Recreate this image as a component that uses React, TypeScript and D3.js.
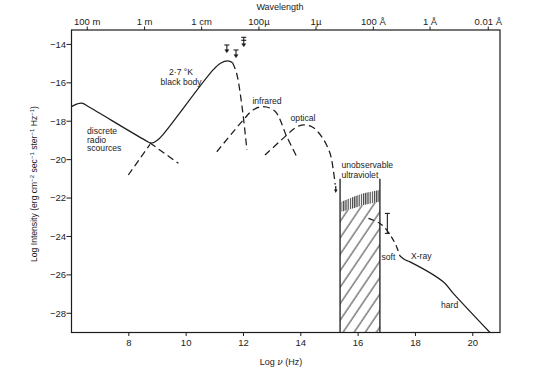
import React from 'react';
import * as d3 from 'd3';

// log nu (Hz) vs log intensity
const radioBBSolid: [number, number][] = [
  [6.0, -17.24], [6.2, -17.1], [6.36, -17.06], [6.6, -17.25], [8.55, -18.97],
  [8.79, -19.14], [9.0, -18.98], [9.2, -18.68], [10.94, -15.33], [11.2, -14.98],
  [11.45, -14.86], [11.62, -14.95],
];
const bbDashHigh: [number, number][] = [[11.62, -14.95], [11.76, -15.5], [11.95, -17.24], [12.12, -19.5]];
const bbDashLow: [number, number][] = [[7.98, -20.8], [8.74, -19.2]];
const radioDash: [number, number][] = [[8.73, -19.12], [9.73, -20.19]];
const infrared: [number, number][] = [
  [11.07, -19.59], [11.99, -17.94], [12.33, -17.42], [12.69, -17.24], [13.1, -17.48],
  [13.51, -18.8], [13.86, -19.85],
];
const optical: [number, number][] = [
  [12.75, -19.76], [13.51, -18.72], [13.75, -18.4], [14.03, -18.2], [14.4, -18.3],
  [14.75, -18.85], [15.02, -19.67], [15.13, -20.5], [15.2, -21.3],
];
const opticalTip: [number, number] = [15.22, -21.74];
const xrayDash: [number, number][] = [[16.36, -23.06], [16.76, -23.32], [17.0, -23.67], [17.29, -24.36], [17.46, -25.02]];
const xraySolid: [number, number][] = [
  [17.46, -25.02], [17.62, -25.2], [17.81, -25.32], [18.97, -26.36], [19.32, -26.96], [20.6, -29.0],
];
const uvBox = { left: 15.37, right: 16.76, top: -21.0 };
const bandV = [15.42, 15.84, 16.19, 16.74];
const bandTop = [-22.19, -21.93, -21.75, -21.58];
const bandBottom = [-22.71, -22.53, -22.36, -22.19];
const upperLimits: { v: number; top: number; tip: number; double: boolean }[] = [
  { v: 11.42, top: -14.03, tip: -14.43, double: false },
  { v: 11.74, top: -14.29, tip: -14.69, double: false },
  { v: 12.01, top: -13.63, tip: -14.12, double: true },
];
const xrayError = { v: 17.02, hi: -22.8, lo: -23.84 };

const xTicks = [8, 10, 12, 14, 16, 18, 20];
const yTicks = [-14, -16, -18, -20, -22, -24, -26, -28];
const wlTickPos = [6.55, 8.55, 10.54, 12.54, 14.53, 16.53, 18.51, 20.54];
const wlTickLabels = ['100 m', '1 m', '1 cm', '100\u00b5', '1\u00b5', '100 \u00c5', '1 \u00c5', '0.01 \u00c5'];

const W = 540;
const H = 368;
const font = '"Liberation Sans", Arial, sans-serif';
const ink = '#1c1c1c';

export default function App() {
  const x = d3.scaleLinear().domain([6, 20.95]).range([71.5, 500]);
  const y = d3.scaleLinear().domain([-29, -13.25]).range([332.5, 30]);
  const line = d3
    .line<[number, number]>()
    .x((d) => x(d[0]))
    .y((d) => y(d[1]))
    .curve(d3.curveCatmullRom.alpha(0.5));
  const straight = d3.line<[number, number]>().x((d) => x(d[0])).y((d) => y(d[1]));

  const bandPoly: [number, number][] = [
    ...bandV.map((v, i) => [v, bandTop[i]] as [number, number]),
    ...bandV.map((v, i) => [v, bandBottom[i]] as [number, number]).reverse(),
  ];
  const hatchPoly: [number, number][] = [
    [uvBox.left, bandBottom[0]],
    ...bandV.map((v, i) => [v, bandBottom[i]] as [number, number]),
    [uvBox.right, bandBottom[bandBottom.length - 1]],
    [uvBox.right, -29],
    [uvBox.left, -29],
  ];

  const [tx, ty] = [x(opticalTip[0]), y(opticalTip[1])];

  return (
    <svg width={W} height={H} style={{ position: 'absolute', left: 0, top: 0, background: '#fff' }} fontFamily={font}>
      <defs>
        <pattern id="diag" patternUnits="userSpaceOnUse" width={9.2} height={20} patternTransform="rotate(34)">
          <line x1={1} y1={0} x2={1} y2={20} stroke={ink} strokeWidth={0.9} />
        </pattern>
        <pattern id="vert" patternUnits="userSpaceOnUse" width={2.2} height={10}>
          <line x1={0.6} y1={0} x2={0.6} y2={10} stroke="#333" strokeWidth={1.1} />
        </pattern>
      </defs>
      <rect width={W} height={H} fill="#fff" />

      {/* frame */}
      <rect x={71.5} y={30} width={500 - 71.5} height={332.5 - 30} fill="none" stroke={ink} strokeWidth={1.2} />

      {/* bottom axis */}
      {xTicks.map((t) => (
        <g key={t}>
          <line x1={x(t)} x2={x(t)} y1={332.5} y2={336} stroke={ink} />
          <text x={x(t)} y={346} textAnchor="middle" fontSize={9.5} fill={ink}>{t}</text>
        </g>
      ))}
      <text x={281} y={365} textAnchor="middle" fontSize={9} fill={ink}>
        Log <tspan fontFamily='"DejaVu Serif", serif' fontStyle="italic">ν</tspan> (Hz)
      </text>

      {/* left axis */}
      {yTicks.map((t) => (
        <g key={t}>
          <line x1={66.5} x2={71.5} y1={y(t)} y2={y(t)} stroke={ink} />
          <text x={66} y={y(t) + 3.3} textAnchor="end" fontSize={9.5} fill={ink}>
            {'\u2212' + Math.abs(t)}
          </text>
        </g>
      ))}
      <text transform="translate(37,184) rotate(-90)" textAnchor="middle" fontSize={8.6} fill={ink}>
        Log Intensity (erg cm<tspan fontSize={6} dy={-3}>{'\u2212'}2</tspan>
        <tspan dy={3}> sec</tspan><tspan fontSize={6} dy={-3}>{'\u2212'}1</tspan>
        <tspan dy={3}> ster</tspan><tspan fontSize={6} dy={-3}>{'\u2212'}1</tspan>
        <tspan dy={3}> Hz</tspan><tspan fontSize={6} dy={-3}>{'\u2212'}1</tspan>
        <tspan dy={3}>)</tspan>
      </text>

      {/* top axis: wavelength */}
      {wlTickPos.map((p, i) => (
        <g key={i}>
          <line x1={x(p)} x2={x(p)} y1={26.5} y2={30} stroke={ink} />
          <text x={x(p)} y={25} textAnchor="middle" fontSize={9.5} fill={ink}>{wlTickLabels[i]}</text>
        </g>
      ))}
      <text x={280} y={9.5} textAnchor="middle" fontSize={9} fill={ink}>Wavelength</text>

      {/* unobservable ultraviolet */}
      <path d={straight(hatchPoly) + 'Z'} fill="url(#diag)" stroke="none" />
      <path d={straight(bandPoly) + 'Z'} fill="url(#vert)" stroke="none" />
      <line x1={x(uvBox.left)} x2={x(uvBox.left)} y1={y(uvBox.top)} y2={332.5} stroke={ink} strokeWidth={1.3} />
      <line x1={x(uvBox.right)} x2={x(uvBox.right)} y1={y(uvBox.top)} y2={332.5} stroke={ink} strokeWidth={1.3} />

      {/* curves */}
      <g fill="none" stroke={ink} strokeWidth={1.25}>
        <path d={line(radioBBSolid) || ''} />
        <path d={line(bbDashHigh) || ''} strokeDasharray="7,4" />
        <path d={straight(bbDashLow) || ''} strokeDasharray="7,4" />
        <path d={straight(radioDash) || ''} strokeDasharray="7,4" />
        <path d={line(infrared) || ''} strokeDasharray="7,4" />
        <path d={line(optical) || ''} strokeDasharray="7,4" />
        <path d={line(xrayDash) || ''} strokeDasharray="6,4" />
        <path d={line(xraySolid) || ''} />
        <line x1={tx} x2={tx} y1={ty - 7} y2={ty - 3} />
      </g>
      <path d={`M${tx - 1.8},${ty - 3.5}L${tx + 1.8},${ty - 3.5}L${tx},${ty}Z`} fill={ink} />

      {/* upper limits near the black body peak */}
      {upperLimits.map((u, i) => {
        const cx = x(u.v);
        const t = y(u.top);
        const b = y(u.tip);
        return (
          <g key={i} stroke={ink} strokeWidth={1.1} fill={ink}>
            <line x1={cx - 2.5} x2={cx + 2.5} y1={t} y2={t} />
            {u.double && <line x1={cx - 2.5} x2={cx + 2.5} y1={t + 3} y2={t + 3} />}
            <line x1={cx} x2={cx} y1={t} y2={b - 2} />
            <path d={`M${cx - 2},${b - 3}L${cx + 2},${b - 3}L${cx},${b}Z`} strokeWidth={0.5} />
          </g>
        );
      })}

      {/* X-ray error bar */}
      <g stroke={ink} strokeWidth={1.1}>
        <line x1={x(xrayError.v)} x2={x(xrayError.v)} y1={y(xrayError.hi)} y2={y(xrayError.lo)} />
        <line x1={x(xrayError.v) - 2.5} x2={x(xrayError.v) + 2.5} y1={y(xrayError.hi)} y2={y(xrayError.hi)} />
        <line x1={x(xrayError.v) - 2.5} x2={x(xrayError.v) + 2.5} y1={y(xrayError.lo)} y2={y(xrayError.lo)} />
      </g>

      {/* labels */}
      <g fontSize={8.6} fill={ink}>
        <text x={87} y={134}>discrete</text>
        <text x={87} y={142.5}>radio</text>
        <text x={87} y={151}>scources</text>
        <text x={181} y={75} textAnchor="middle">2·7 °K</text>
        <text x={181} y={85} textAnchor="middle">black body</text>
        <text x={267} y={104} textAnchor="middle">infrared</text>
        <text x={303} y={121} textAnchor="middle">optical</text>
        <text x={341.5} y={168}>unobservable</text>
        <text x={341.5} y={177.5}>ultraviolet</text>
        <text x={381.5} y={260}>soft</text>
        <text x={411} y={259}>X-ray</text>
        <text x={441} y={308}>hard</text>
      </g>
    </svg>
  );
}
